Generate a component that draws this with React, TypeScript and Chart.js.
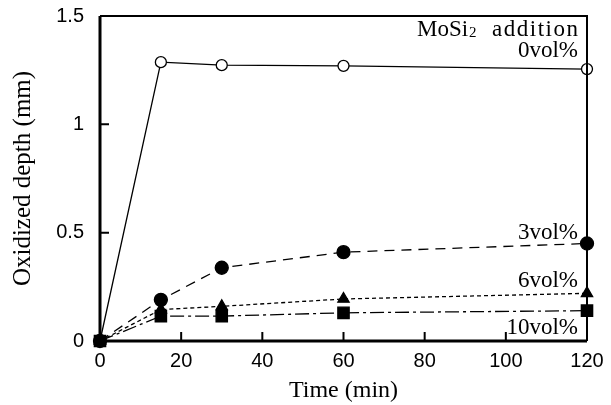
import React, { useEffect, useRef } from "react";
import { Chart, registerables } from "chart.js";

Chart.register(...registerables);

const times = [0, 15, 30, 60, 120];
const vol0 = [0, 1.287, 1.273, 1.27, 1.255];
const vol3 = [0, 0.19, 0.338, 0.41, 0.45];
const vol6 = [0, 0.145, 0.16, 0.194, 0.22];
const vol10 = [0, 0.115, 0.115, 0.13, 0.14];

const xTicks = [0, 20, 40, 60, 80, 100, 120];
const yTicks = [0, 0.5, 1, 1.5];

const seriesLabels = ["0vol%", "3vol%", "6vol%", "10vol%"];
const labelValues = [1.31, 0.472, 0.25, 0.032];

const SERIF = "'Liberation Serif', 'Times New Roman', serif";
const SANS = "'Liberation Sans', Arial, sans-serif";

const framePlugin = {
  id: "frame",
  afterDraw(chart: any) {
    const { ctx, chartArea: a, scales } = chart;
    const xs = scales.x;
    const ys = scales.y;
    ctx.save();
    ctx.strokeStyle = "#000";
    // ticks inward
    ctx.lineWidth = 2;
    ctx.beginPath();
    for (const t of xTicks) {
      const px = xs.getPixelForValue(t);
      ctx.moveTo(px, a.bottom);
      ctx.lineTo(px, a.bottom - 9);
    }
    for (const t of yTicks) {
      const py = ys.getPixelForValue(t);
      ctx.moveTo(a.left, py);
      ctx.lineTo(a.left + 9, py);
    }
    ctx.stroke();
    // frame
    ctx.lineWidth = 2;
    ctx.beginPath();
    ctx.moveTo(a.left, a.top);
    ctx.lineTo(a.right, a.top);
    ctx.lineTo(a.right, a.bottom);
    ctx.stroke();
    ctx.lineWidth = 3;
    ctx.beginPath();
    ctx.moveTo(a.left, a.top);
    ctx.lineTo(a.left, a.bottom);
    ctx.lineTo(a.right, a.bottom);
    ctx.stroke();

    // annotations
    ctx.fillStyle = "#000";
    ctx.textAlign = "right";
    ctx.textBaseline = "alphabetic";
    const rx = a.right - 9;
    ctx.font = `23px ${SERIF}`;
    seriesLabels.forEach((s, i) => {
      ctx.fillText(s, rx, ys.getPixelForValue(labelValues[i]));
    });
    // MoSi2 addition with subscript
    const by = ys.getPixelForValue(1.41);
    (ctx as any).letterSpacing = "1.5px";
    const part3 = "addition";
    ctx.fillText(part3, rx + 1.5, by);
    const w3 = ctx.measureText(part3).width;
    (ctx as any).letterSpacing = "0px";
    const gap = 14;
    ctx.font = `15px ${SERIF}`;
    const w2 = ctx.measureText("2").width;
    ctx.fillText("2", rx - w3 - gap, by + 1);
    ctx.font = `23px ${SERIF}`;
    ctx.fillText("MoSi", rx - w3 - gap - w2 - 1, by);
    ctx.restore();
  },
};

export default function App() {
  const ref = useRef<HTMLCanvasElement | null>(null);
  useEffect(() => {
    if (!ref.current) return;
    const mk = (arr: number[]) => times.map((t, i) => ({ x: t, y: arr[i] }));
    const chart = new Chart(ref.current, {
      type: "line",
      data: {
        datasets: [
          {
            label: "0vol%",
            data: mk(vol0),
            order: 3,
            borderColor: "#000",
            borderWidth: 1.3,
            pointStyle: "circle",
            pointRadius: 5.5,
            pointBackgroundColor: "#fff",
            pointBorderColor: "#000",
            pointBorderWidth: 1.3,
          },
          {
            label: "3vol%",
            data: mk(vol3),
            order: 2,
            borderColor: "#000",
            borderWidth: 1.3,
            borderDash: [10, 7],
            pointStyle: "circle",
            pointRadius: 6.5,
            pointBackgroundColor: "#000",
            pointBorderColor: "#000",
          },
          {
            label: "6vol%",
            data: mk(vol6),
            order: 1,
            borderColor: "#000",
            borderWidth: 1.3,
            borderDash: [4, 3],
            pointStyle: "triangle",
            pointRadius: 6.5,
            pointBackgroundColor: "#000",
            pointBorderColor: "#000",
          },
          {
            label: "10vol%",
            data: mk(vol10),
            order: 0,
            borderColor: "#000",
            borderWidth: 1.3,
            borderDash: [14, 4, 3, 4],
            pointStyle: "rect",
            pointRadius: 8,
            pointBackgroundColor: "#000",
            pointBorderColor: "#000",
          },
        ],
      },
      options: {
        animation: false,
        responsive: false,
        clip: false as any,
        layout: { padding: { top: 16, right: 24, left: 0, bottom: 0 } },
        plugins: { legend: { display: false }, tooltip: { enabled: false } },
        scales: {
          x: {
            type: "linear",
            min: 0,
            max: 120,
            border: { display: false },
            grid: { display: false, drawTicks: false },
            afterBuildTicks: (s: any) => {
              s.ticks = xTicks.map((v) => ({ value: v }));
            },
            ticks: {
              color: "#000",
              font: { family: SANS, size: 20 },
              padding: 8,
              maxRotation: 0,
              autoSkip: false,
            },
            title: {
              display: true,
              text: "Time (min)",
              color: "#000",
              font: { family: SERIF, size: 24 },
              padding: { top: 0, bottom: 0 },
            },
            afterFit: (s: any) => {
              s.height = 64;
              s.paddingLeft = 0;
              s.paddingRight = 0;
            },
          },
          y: {
            type: "linear",
            min: 0,
            max: 1.5,
            border: { display: false },
            grid: { display: false, drawTicks: false },
            afterBuildTicks: (s: any) => {
              s.ticks = yTicks.map((v) => ({ value: v }));
            },
            ticks: {
              color: "#000",
              font: { family: SANS, size: 20 },
              padding: 16,
              autoSkip: false,
              callback: (v: any) => String(v),
            },
            title: {
              display: true,
              text: "Oxidized depth (mm)",
              color: "#000",
              font: { family: SERIF, size: 25 },
              padding: { top: 8, bottom: 0 },
            },
            afterFit: (s: any) => {
              s.width = 100;
              s.paddingTop = 0;
              s.paddingBottom = 0;
            },
          },
        },
      },
      plugins: [framePlugin],
    });
    return () => chart.destroy();
  }, []);
  return (
    <div style={{ position: "fixed", left: 0, top: 0, width: 611, height: 405, background: "#fff" }}>
      <canvas ref={ref} width={611} height={405} style={{ width: 611, height: 405 }} />
    </div>
  );
}
